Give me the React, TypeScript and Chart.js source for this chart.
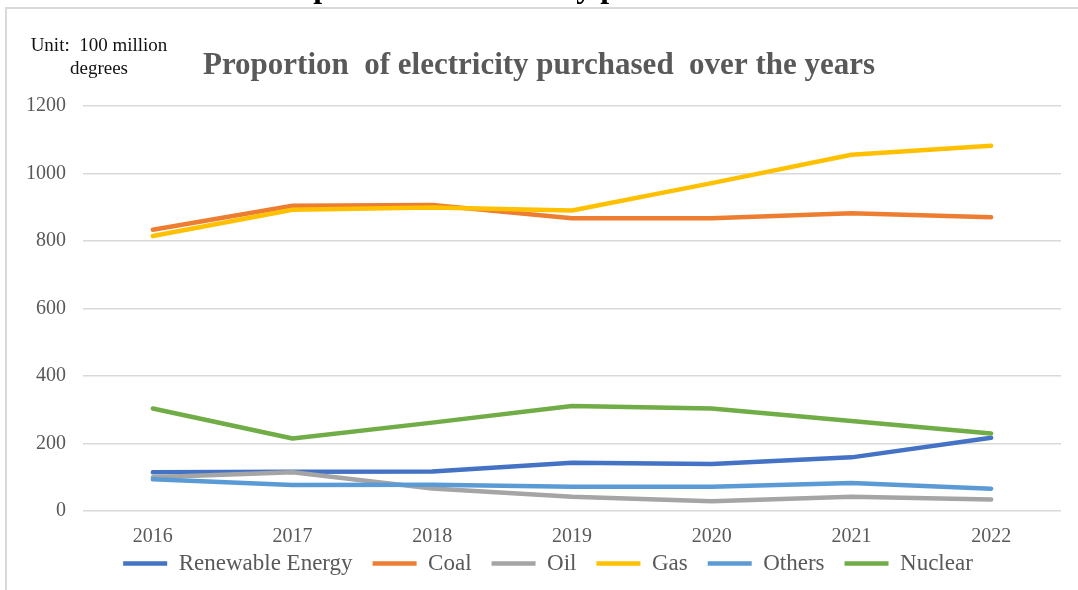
import React, { useEffect, useRef } from "react";
import { Chart, registerables } from "chart.js";

Chart.register(...registerables);

// Purchased electricity by source, unit: 100 million degrees (kWh)
const years = ["2016", "2017", "2018", "2019", "2020", "2021", "2022"];
const renewableEnergy = [115, 116, 117, 143, 139, 159, 217];
const coal = [834, 905, 907, 868, 868, 883, 871];
const oil = [100, 115, 67, 42, 29, 42, 34];
const gas = [815, 893, 900, 891, 972, 1056, 1083];
const others = [94, 77, 78, 72, 72, 83, 66];
const nuclear = [304, 215, 262, 311, 304, 267, 230];

const seriesNames = ["Renewable Energy", "Coal", "Oil", "Gas", "Others", "Nuclear"];
const seriesColors = ["#4472C4", "#ED7D31", "#A5A5A5", "#FFC000", "#5B9BD5", "#70AD47"];
const seriesValues = [renewableEnergy, coal, oil, gas, others, nuclear];

const yMin = 0;
const yMax = 1200;
const yStep = 200;

const titleText = "Proportion  of electricity purchased  over the years";
const unitLines = ["Unit:  100 million", "degrees"];
const captionText = "Proportion of electricity purchased";

const SERIF = "'Liberation Serif', 'Times New Roman', serif";
const GREY = "#595959";

// Pulls the legend row up closer to the category labels and centres it under the plot.
const legendLift = {
  id: "legendLift",
  afterLayout(chart: any) {
    const legend = chart.legend;
    if (!legend) return;
    legend.top -= 15;
    legend.bottom -= 15;
    legend.left += 9;
    legend.right += 9;
  },
};

export default function App() {
  const canvasRef = useRef<HTMLCanvasElement | null>(null);

  useEffect(() => {
    const canvas = canvasRef.current;
    if (!canvas) return;
    const n = seriesValues.length;
    const chart = new Chart(canvas, {
      type: "line",
      data: {
        labels: years,
        datasets: seriesValues.map((values, i) => ({
          label: seriesNames[i],
          data: values,
          borderColor: seriesColors[i],
          backgroundColor: seriesColors[i],
          borderWidth: 4.5,
          borderCapStyle: "round" as const,
          borderJoinStyle: "round" as const,
          pointRadius: 0,
          pointHoverRadius: 0,
          tension: 0,
          // later series are painted over earlier ones
          order: n - i,
        })),
      },
      plugins: [legendLift],
      options: {
        responsive: false,
        animation: false,
        layout: { padding: { left: 17, right: 17, top: 0, bottom: 0 } },
        plugins: {
          title: {
            display: true,
            text: titleText,
            color: GREY,
            font: { family: SERIF, size: 31, weight: "bold" },
            padding: { top: 47, bottom: 22 },
          },
          legend: {
            position: "bottom",
            maxHeight: 43,
            labels: {
              usePointStyle: true,
              pointStyle: "line",
              pointStyleWidth: 44,
              boxHeight: 4,
              color: GREY,
              font: { family: SERIF, size: 23 },
              padding: 20,
              sort: (a: any, b: any) => a.datasetIndex - b.datasetIndex,
            },
          },
          tooltip: { enabled: false },
        },
        scales: {
          x: {
            offset: true,
            grid: { display: false, drawTicks: false },
            border: { display: false },
            ticks: {
              color: GREY,
              font: { family: SERIF, size: 20 },
              padding: 14,
              maxRotation: 0,
            },
            afterFit: (scale: any) => {
              scale.height = 36;
            },
          },
          y: {
            min: yMin,
            max: yMax,
            grid: { color: "#D9D9D9", lineWidth: 1.5, drawTicks: false },
            border: { display: false },
            ticks: {
              stepSize: yStep,
              color: GREY,
              font: { family: SERIF, size: 20 },
              padding: 17,
              callback: (v: any) => String(v),
            },
            afterFit: (scale: any) => {
              scale.width = 66;
            },
          },
        },
      },
    });
    return () => chart.destroy();
  }, []);

  return (
    <div>
      <div
        style={{
          position: "fixed",
          left: 0,
          top: 0,
          width: 1078,
          height: 7,
          overflow: "hidden",
        }}
      >
        <div
          style={{
            position: "absolute",
            left: 264,
            top: -30,
            font: `bold 32px ${SERIF}`,
            lineHeight: "33px",
            color: "#000",
            whiteSpace: "pre",
          }}
        >
          {captionText}
        </div>
      </div>
      <div
        style={{
          position: "fixed",
          left: 5,
          top: 7,
          width: 1073,
          height: 583,
          borderTop: "2px solid #D9D9D9",
          borderLeft: "2px solid #D9D9D9",
          boxSizing: "border-box",
        }}
      />
      <canvas
        ref={canvasRef}
        width={1078}
        height={590}
        style={{ position: "fixed", left: 0, top: 0, display: "block" }}
      />
      <div
        style={{
          position: "fixed",
          left: 20,
          top: 33,
          width: 158,
          textAlign: "center",
          font: `19px ${SERIF}`,
          lineHeight: "23px",
          color: "#111",
          whiteSpace: "pre",
        }}
      >
        {unitLines.map((t) => (
          <div key={t}>{t}</div>
        ))}
      </div>
    </div>
  );
}
